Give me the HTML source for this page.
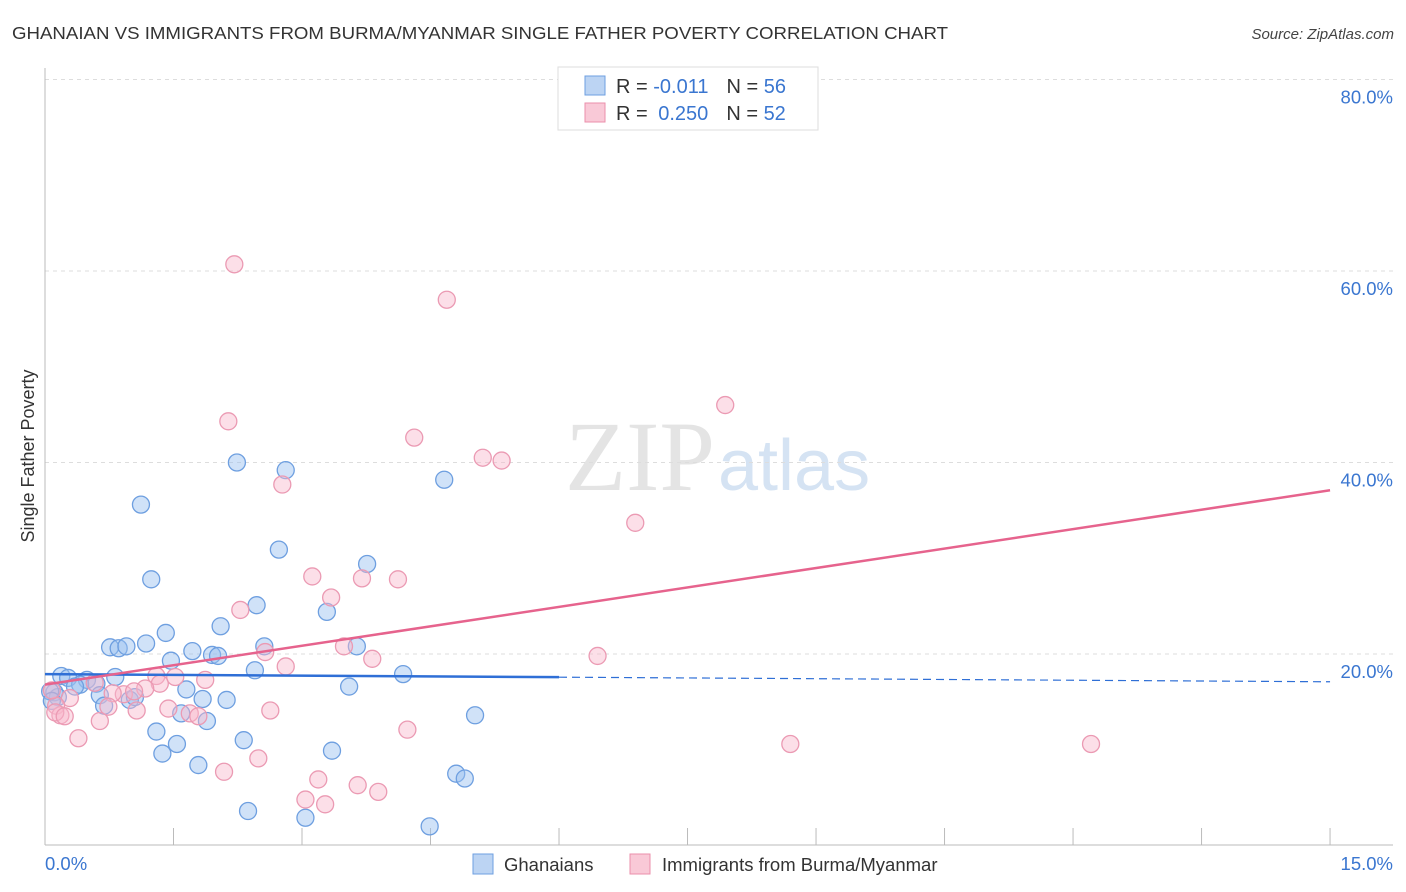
<!DOCTYPE html>
<html><head><meta charset="utf-8"><style>
body{margin:0;background:#fff;font-family:"Liberation Sans",sans-serif;}
svg{display:block}
</style></head><body>
<svg id="chart" width="1406" height="892">
<text x="12" y="39" font-size="17.5" fill="#333" textLength="936" lengthAdjust="spacingAndGlyphs">GHANAIAN VS IMMIGRANTS FROM BURMA/MYANMAR SINGLE FATHER POVERTY CORRELATION CHART</text>
<text x="1394" y="39" font-size="15" fill="#444" font-style="italic" text-anchor="end">Source: ZipAtlas.com</text>
<text x="715" y="490" font-size="100" fill="#e4e4e4" text-anchor="end" font-family="Liberation Serif,serif">ZIP</text>
<text x="718" y="490" font-size="72" fill="#d5e3f3">atlas</text>
<text x="34" y="456" font-size="18" fill="#333" text-anchor="middle" transform="rotate(-90 34 456)">Single Father Poverty</text>
<g id="grid"></g><g id="pts"></g><g id="lines"></g>
<g>
<rect x="558" y="67" width="260" height="63" fill="#fff" stroke="#ddd"/>
<rect x="585" y="76" width="20" height="19" fill="#bcd4f3" stroke="#6e9fe0"/>
<rect x="585" y="103" width="20" height="19" fill="#f9c9d7" stroke="#eb8fab"/>
<text x="616" y="93" font-size="20" fill="#333">R = <tspan fill="#3a76d0">-0.011</tspan><tspan dx="18">N = </tspan><tspan fill="#3a76d0">56</tspan></text>
<text x="616" y="120" font-size="20" fill="#333">R = <tspan fill="#3a76d0" dx="5">0.250</tspan><tspan dx="18">N = </tspan><tspan fill="#3a76d0">52</tspan></text>
</g>
<g>
<rect x="473" y="854" width="20" height="20" fill="#bcd4f3" stroke="#6e9fe0"/>
<text x="504" y="871" font-size="18.5" fill="#333">Ghanaians</text>
<rect x="630" y="854" width="20" height="20" fill="#f9c9d7" stroke="#eb8fab"/>
<text x="662" y="871" font-size="18.5" fill="#333">Immigrants from Burma/Myanmar</text>
</g>
</svg>
<script>
const yTicks=[20,40,60,80];
const xTickLabels=["0.0%","15.0%"];
const blueX=[1.12,1.24,2.24,2.81,4.66,2.73,3.76,2.47,3.29,1.41,2.05,0.76,0.86,0.95,1.18,1.72,2.56,3.64,1.47,1.95,2.02,2.45,4.18,0.19,0.27,0.49,0.60,0.82,0.41,0.11,0.15,0.35,0.64,1.65,1.84,2.12,3.55,0.99,1.05,0.69,1.59,1.89,5.02,1.30,1.54,2.32,3.35,1.37,1.79,4.80,4.90,2.37,3.04,4.49,0.06,0.08];
const blueY=[35.6,27.8,40.0,39.2,38.2,30.9,29.4,25.1,24.4,22.2,22.9,20.7,20.6,20.8,21.1,20.3,20.8,20.8,19.3,19.9,19.8,18.3,17.9,17.7,17.5,17.3,16.9,17.6,16.8,16.0,15.5,16.6,15.7,16.3,15.3,15.2,16.6,15.2,15.5,14.6,13.8,13.0,13.6,11.9,10.6,11.0,9.9,9.6,8.4,7.5,7.0,3.6,2.9,2.0,16.1,15.1];
const pinkX=[2.21,4.69,7.94,2.14,4.31,5.11,5.33,2.77,6.89,3.12,3.70,4.12,3.34,2.28,3.49,3.82,2.57,2.81,6.45,1.30,1.52,1.87,1.34,1.17,0.92,1.04,0.79,0.58,0.29,0.13,0.18,0.12,0.23,0.64,1.07,1.44,1.69,1.79,2.63,4.23,0.39,2.09,2.49,3.19,3.65,3.89,3.04,3.27,8.70,12.21,0.08,0.74];
const pinkY=[60.7,57.0,46.0,44.3,42.6,40.5,40.2,37.7,33.7,28.1,27.9,27.8,25.9,24.6,20.8,19.5,20.2,18.7,19.8,17.7,17.6,17.3,16.9,16.4,15.8,16.1,15.9,17.0,15.4,14.6,13.6,13.9,13.5,13.0,14.1,14.3,13.8,13.5,14.1,12.1,11.2,7.7,9.1,6.9,6.3,5.6,4.8,4.3,10.6,10.6,16.2,14.5];
const blueTrend=[17.9,17.1];
const pinkTrend=[16.8,37.1];
const NS="http://www.w3.org/2000/svg";
const X=v=>45+v*85.67, Y=v=>845.5-v*9.575;
function mk(t,a,p){const e=document.createElementNS(NS,t);for(const k in a)e.setAttribute(k,a[k]);p.appendChild(e);return e;}
const g=document.getElementById('grid');
yTicks.forEach(t=>{
 const l=mk('line',{x1:45,x2:1393,y1:Y(t),y2:Y(t),stroke:'#ddd','stroke-dasharray':'4,4'},g);
 
 
 const tx=mk('text',{x:1393,y:Y(t)+24,'font-size':18.5,fill:'#3a76d0','text-anchor':'end'},g);
 tx.textContent=t.toFixed(1)+'%';
 
 
});
mk('line',{x1:45,x2:45,y1:68,y2:845,stroke:'#bbb'},g);
mk('line',{x1:45,x2:1393,y1:845,y2:845,stroke:'#bbb'},g);
for(let i=1;i<=10;i++){const tl=mk('line',{x1:X(i*1.5),x2:X(i*1.5),y1:828,y2:845,stroke:'#bbb'},g);
 
 }
const xl=mk('text',{x:45,y:870,'font-size':18.5,fill:'#3a76d0'},g);xl.textContent=xTickLabels[0];


const xr=mk('text',{x:1393,y:870,'font-size':18.5,fill:'#3a76d0','text-anchor':'end'},g);xr.textContent=xTickLabels[1];


const p=document.getElementById('pts');
blueX.forEach((v,i)=>{const c=mk('circle',{cx:X(v),cy:Y(blueY[i]),r:8.5,fill:'rgba(150,190,240,0.45)',stroke:'#6e9fe0','stroke-width':1.3},p);
 
 });
pinkX.forEach((v,i)=>{const c=mk('circle',{cx:X(v),cy:Y(pinkY[i]),r:8.5,fill:'rgba(248,185,205,0.45)',stroke:'#eb9ab3','stroke-width':1.3},p);
 
 });
const L=document.getElementById('lines');
const bAt=x=>blueTrend[0]+(blueTrend[1]-blueTrend[0])*x/15;
const b1=mk('line',{x1:X(0),y1:Y(bAt(0)),x2:X(6),y2:Y(bAt(6)),stroke:'#2f6fd6','stroke-width':2.5},L);


const b2=mk('line',{x1:X(6),y1:Y(bAt(6)),x2:X(15),y2:Y(bAt(15)),stroke:'#2f6fd6','stroke-width':1.2,'stroke-dasharray':'8,5'},L);


const pl=mk('line',{x1:X(0),y1:Y(pinkTrend[0]),x2:X(15),y2:Y(pinkTrend[1]),stroke:'#e6638d','stroke-width':2.5},L);


</script>
</body></html>
